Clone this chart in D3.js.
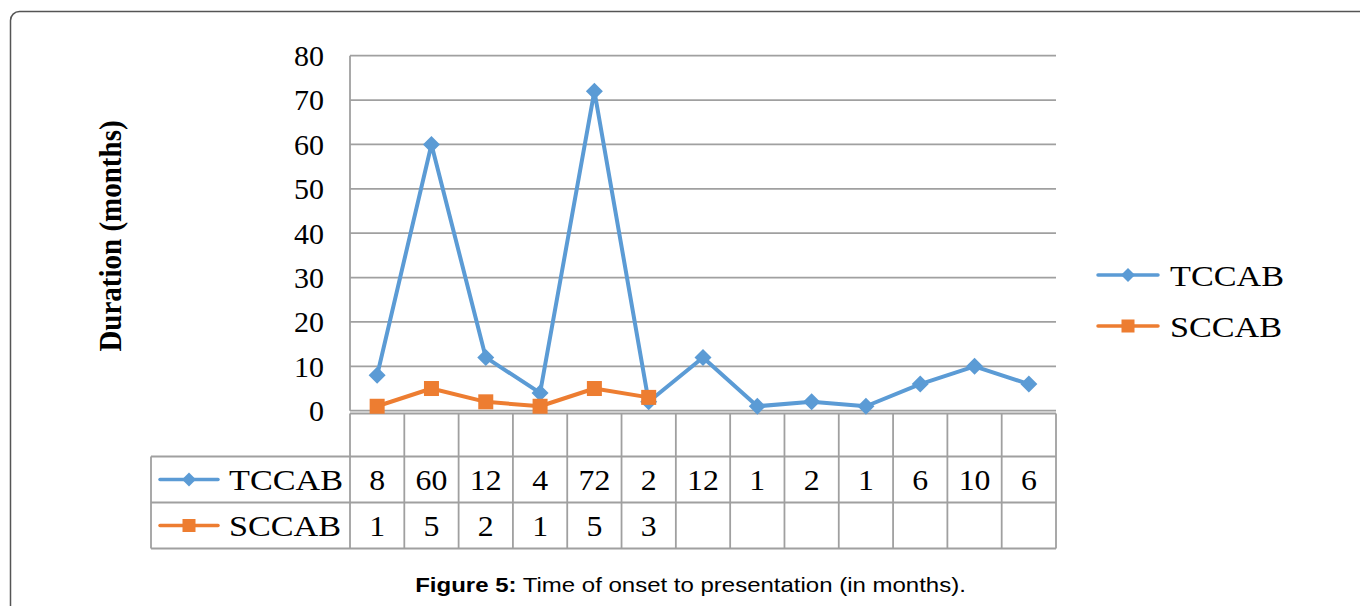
<!DOCTYPE html>
<html>
<head>
<meta charset="utf-8">
<script src="https://cdn.jsdelivr.net/npm/d3@7"></script>
<style>
  html, body { margin: 0; padding: 0; background: #fff; }
  svg { display: block; }
</style>
</head>
<body>
<svg id="chart" width="1360" height="606"></svg>
<script>
// ---- data ----
const categories = ["", "", "", "", "", "", "", "", "", "", "", "", ""];
const seriesNames = ["TCCAB", "SCCAB"];
const tccab = [8, 60, 12, 4, 72, 2, 12, 1, 2, 1, 6, 10, 6];
const sccab = [1, 5, 2, 1, 5, 3];
const yTicks = [0, 10, 20, 30, 40, 50, 60, 70, 80];
const yTitle = "Duration (months)";
const captionBold = "Figure 5:";
const captionText = " Time of onset to presentation (in months).";
const colors = ["#5B9BD5", "#ED7D31"];

const svg = d3.select("#chart");
const serif = "'Liberation Serif', 'Times New Roman', serif";
const sans = "'Liberation Sans', Arial, sans-serif";

// outer frame
svg.append("rect")
  .attr("x", 10.5).attr("y", 11.5)
  .attr("width", 1400).attr("height", 700)
  .attr("rx", 9).attr("ry", 9)
  .attr("fill", "none").attr("stroke", "#555").attr("stroke-width", 1.5);

const plotLeft = 350, plotRight = 1056, yTop = 55.7, yZero = 410.7;
const x = d3.scaleBand().domain(d3.range(categories.length)).range([plotLeft, plotRight]);
const y = d3.scaleLinear().domain([0, 80]).range([yZero, yTop]);

// gridlines
const gridColor = "#a0a0a0";
svg.append("g").selectAll("line").data(yTicks).join("line")
  .attr("x1", plotLeft).attr("x2", plotRight)
  .attr("y1", d => y(d)).attr("y2", d => y(d))
  .attr("stroke", gridColor).attr("stroke-width", 1.8);
svg.append("line")
  .attr("x1", plotLeft).attr("x2", plotLeft)
  .attr("y1", yTop).attr("y2", yZero)
  .attr("stroke", gridColor).attr("stroke-width", 1.8);

// y tick labels via axis
const yAxis = d3.axisLeft(y).tickValues(yTicks).tickSize(0).tickPadding(0);
const ga = svg.append("g").attr("transform", `translate(${324},0)`).call(yAxis);
ga.select(".domain").remove();
ga.selectAll("text")
  .attr("font-family", serif).attr("font-size", 30).attr("fill", "#000")
  .attr("dy", "0.33em");

// y title
svg.append("text")
  .attr("transform", `translate(121,${236}) rotate(-90) scale(1,1.06)`)
  .attr("text-anchor", "middle")
  .attr("font-family", serif).attr("font-weight", "bold").attr("font-size", 29)
  .attr("fill", "#000")
  .text(yTitle);

// stretched text helper
function sText(g, tx, ty, s, str, anchor, size) {
  return g.append("text")
    .attr("transform", `translate(${tx},${ty}) scale(${s},1)`)
    .attr("dy", "0.35em")
    .attr("text-anchor", anchor)
    .attr("font-family", serif).attr("font-size", size).attr("fill", "#000")
    .text(str);
}

// ---- data table ----
const tTop = 413.5, rowH = [43, 46, 46];
const rowY = [tTop, tTop + rowH[0], tTop + rowH[0] + rowH[1], tTop + rowH[0] + rowH[1] + rowH[2]];
const labelLeft = 151;
const tg = svg.append("g").attr("stroke", gridColor).attr("stroke-width", 1.8);
tg.append("line").attr("x1", plotLeft).attr("x2", plotRight).attr("y1", rowY[0]).attr("y2", rowY[0]);
[1, 2, 3].forEach(i => tg.append("line").attr("x1", labelLeft).attr("x2", plotRight).attr("y1", rowY[i]).attr("y2", rowY[i]));
const colEdges = categories.map((c, i) => x(i)).concat([plotRight]);
tg.selectAll(".v").data(colEdges).join("line")
  .attr("x1", d => d).attr("x2", d => d)
  .attr("y1", rowY[0]).attr("y2", rowY[3]);
tg.append("line").attr("x1", labelLeft).attr("x2", labelLeft).attr("y1", rowY[1]).attr("y2", rowY[3]);

const tableSeries = [tccab, sccab];
tableSeries.forEach((vals, si) => {
  const cy = (rowY[si + 1] + rowY[si + 2]) / 2;
  const g = svg.append("g");
  vals.forEach((d, i) => sText(g, x(i) + x.bandwidth() / 2, cy, 1.06, d, "middle", 30));
});

// marker helpers
function diamond(g, cx, cy, r, color) {
  g.append("path")
    .attr("d", `M${cx},${cy - r}L${cx + r},${cy}L${cx},${cy + r}L${cx - r},${cy}Z`)
    .attr("fill", color);
}
function square(g, cx, cy, s, color) {
  g.append("rect").attr("x", cx - s / 2).attr("y", cy - s / 2)
    .attr("width", s).attr("height", s).attr("fill", color);
}
function legendItem(x0, x1, cy, si, textX) {
  const g = svg.append("g");
  g.append("line").attr("x1", x0).attr("x2", x1).attr("y1", cy).attr("y2", cy)
    .attr("stroke", colors[si]).attr("stroke-width", 3.5).attr("stroke-linecap", "round");
  const mx = (x0 + x1) / 2;
  if (si === 0) diamond(g, mx, cy, 7, colors[0]); else square(g, mx, cy, 13, colors[1]);
  sText(g, textX, cy, 1.14, seriesNames[si], "start", 30);
}
legendItem(160, 218, (rowY[1] + rowY[2]) / 2, 0, 229);
legendItem(160, 218, (rowY[2] + rowY[3]) / 2, 1, 229);
legendItem(1098, 1158, 275, 0, 1170);
legendItem(1098, 1158, 326, 1, 1170);

// ---- lines ----
const line = d3.line().x((d, i) => x(i) + x.bandwidth() / 2).y(d => y(d));
const lg = svg.append("g");
lg.append("path").datum(tccab).attr("d", line)
  .attr("fill", "none").attr("stroke", colors[0]).attr("stroke-width", 4).attr("stroke-linejoin", "round");
tccab.forEach((v, i) => diamond(lg, x(i) + x.bandwidth() / 2, y(v), 8.5, colors[0]));
lg.append("path").datum(sccab).attr("d", line)
  .attr("fill", "none").attr("stroke", colors[1]).attr("stroke-width", 4).attr("stroke-linejoin", "round");
sccab.forEach((v, i) => square(lg, x(i) + x.bandwidth() / 2, y(v), 15, colors[1]));

// caption
const cap = svg.append("text")
  .attr("transform", "translate(690.5,592) scale(1.2,1)")
  .attr("text-anchor", "middle")
  .attr("font-family", sans).attr("font-size", 20).attr("fill", "#000");
cap.append("tspan").attr("font-weight", "bold").text(captionBold);
cap.append("tspan").text(captionText);
</script>
</body>
</html>
